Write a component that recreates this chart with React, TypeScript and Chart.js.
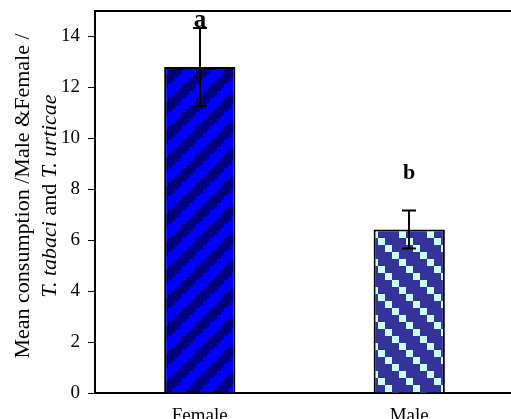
import React, { useEffect, useRef } from "react";
import { Chart, registerables } from "chart.js";

Chart.register(...registerables);

const categories = ["Female", "Male"];
const meanValues = [12.8, 6.42];
const errorValues = [1.53, 0.75];
const groupLetters = ["a", "b"];
const letterBaselines = [14.33, 8.36];
const yTitleLine1 = "Mean consumption /Male &Female /";
const yTitleLine2: { t: string; italic: boolean }[] = [
  { t: "T. tabaci", italic: true },
  { t: " and ", italic: false },
  { t: "T. urticae", italic: true },
];

const SERIF = "'Liberation Serif', 'Times New Roman', serif";

function makePattern(kind: number): CanvasPattern | string {
  const c = document.createElement("canvas");
  c.width = 28;
  c.height = 28;
  const g = c.getContext("2d");
  if (!g) return "#000080";
  for (let y = 0; y < 28; y++) {
    for (let x = 0; x < 28; x++) {
      let col: string;
      if (kind === 0) {
        const bx = Math.floor(x / 3.5);
        const by = Math.floor(y / 3.5);
        col = (bx + by) % 8 < 4 ? "#0000FF" : "#000080";
      } else {
        const cx = Math.floor(x / 7);
        const cy = Math.floor(y / 7);
        col = (((cx - cy) % 4) + 4) % 4 === 0 ? "#CCFFFF" : "#333399";
      }
      g.fillStyle = col;
      g.fillRect(x, y, 1, 1);
    }
  }
  const p = g.createPattern(c, "repeat");
  return p || "#000080";
}

export default function App() {
  const ref = useRef<HTMLCanvasElement>(null);

  useEffect(() => {
    if (!ref.current) return;
    const decorPlugin = {
      id: "decor",
      afterDraw(chart: any) {
        const ctx = chart.ctx as CanvasRenderingContext2D;
        const area = chart.chartArea;
        const ys = chart.scales.y;
        const meta = chart.getDatasetMeta(0);
        ctx.save();
        // top frame line
        ctx.strokeStyle = "#000";
        ctx.lineWidth = 2;
        ctx.beginPath();
        ctx.moveTo(area.left - 1, area.top);
        ctx.lineTo(area.right + 2, area.top);
        ctx.stroke();
        // error bars
        meta.data.forEach((bar: any, i: number) => {
          const x = Math.round(bar.x);
          const yt = ys.getPixelForValue(meanValues[i] + errorValues[i]);
          const yb = ys.getPixelForValue(meanValues[i] - errorValues[i]);
          ctx.lineWidth = 2;
          ctx.beginPath();
          ctx.moveTo(x, yt);
          ctx.lineTo(x, yb);
          ctx.moveTo(x - 7, yt);
          ctx.lineTo(x + 7, yt);
          ctx.moveTo(x - 7, yb);
          ctx.lineTo(x + 7, yb);
          ctx.stroke();
          // letters
          ctx.fillStyle = "#000";
          ctx.textAlign = "center";
          ctx.textBaseline = "alphabetic";
          ctx.font = `bold ${i === 0 ? 25 : 22}px ${SERIF}`;
          ctx.fillText(groupLetters[i], x, ys.getPixelForValue(letterBaselines[i]) - 1);
        });
        // y title
        const cy = 196;
        ctx.fillStyle = "#000";
        ctx.textBaseline = "alphabetic";
        ctx.textAlign = "left";
        ctx.save();
        ctx.translate(29, cy);
        ctx.rotate(-Math.PI / 2);
        ctx.font = `22px ${SERIF}`;
        const w1 = ctx.measureText(yTitleLine1).width;
        ctx.fillText(yTitleLine1, -w1 / 2, 0);
        ctx.restore();
        ctx.save();
        ctx.translate(56, cy);
        ctx.rotate(-Math.PI / 2);
        let total = 0;
        const widths = yTitleLine2.map((s) => {
          ctx.font = `${s.italic ? "italic " : ""}22px ${SERIF}`;
          const w = ctx.measureText(s.t).width;
          total += w;
          return w;
        });
        let pos = -total / 2;
        yTitleLine2.forEach((s, i) => {
          ctx.font = `${s.italic ? "italic " : ""}22px ${SERIF}`;
          ctx.fillText(s.t, pos, 0);
          pos += widths[i];
        });
        ctx.restore();
        ctx.restore();
      },
    };

    const chart = new Chart(ref.current, {
      type: "bar",
      data: {
        labels: categories,
        datasets: [
          {
            data: meanValues,
            backgroundColor: [makePattern(0), makePattern(1)] as any,
            borderColor: "#000",
            borderWidth: 2,
            barPercentage: 0.34,
            categoryPercentage: 1,
          },
        ],
      },
      options: {
        animation: false,
        responsive: false,
        layout: { padding: { top: 11, left: 0, right: 0, bottom: 0 } },
        plugins: {
          legend: { display: false },
          tooltip: { enabled: false },
          title: { display: false },
        },
        scales: {
          x: {
            grid: { display: true, drawOnChartArea: false, drawTicks: false },
            border: { display: true, color: "#000", width: 2 },
            ticks: { color: "#000", padding: 12, font: { family: SERIF, size: 19 } },
            afterFit: (s: any) => {
              s.height = 26;
              s.paddingLeft = 0;
              s.paddingRight = 0;
            },
          },
          y: {
            min: 0,
            max: 15,
            grid: {
              display: true,
              drawOnChartArea: false,
              drawTicks: true,
              tickLength: 7,
              color: "#000",
              lineWidth: 1,
            },
            border: { display: true, color: "#000", width: 2 },
            ticks: {
              stepSize: 2,
              includeBounds: false,
              color: "#000",
              padding: 8,
              font: { family: SERIF, size: 19 },
            },
            afterFit: (s: any) => {
              s.width = 95;
              s.paddingTop = 0;
              s.paddingBottom = 0;
            },
          },
        },
      },
      plugins: [decorPlugin],
    });
    return () => chart.destroy();
  }, []);

  return (
    <div
      style={{
        position: "fixed",
        left: 0,
        top: 0,
        width: 511,
        height: 419,
        overflow: "hidden",
        background: "#fff",
      }}
    >
      <canvas ref={ref} width={514} height={419} style={{ width: 514, height: 419, display: "block" }} />
    </div>
  );
}
